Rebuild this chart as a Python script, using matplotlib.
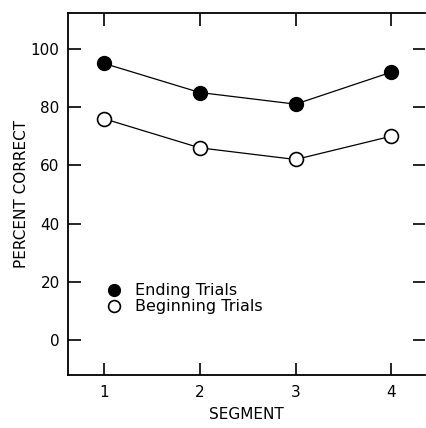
import matplotlib
matplotlib.use('Agg')
import matplotlib.pyplot as plt

# 数据
segments = [1, 2, 3, 4]
ending = [95, 85, 81, 92]
beginning = [76, 66, 62, 70]
yticks = [0, 20, 40, 60, 80, 100]

plt.rcParams['font.family'] = ['DejaVu Sans']

fig = plt.figure(figsize=(4.26, 4.28), dpi=100)
ax = fig.add_axes([68 / 426, 1 - 375 / 428, (425 - 68) / 426, (375 - 13) / 428])

ax.plot(segments, ending, color='black', linewidth=0.9, marker='o', markersize=10,
        markerfacecolor='black', markeredgecolor='black', label='Ending Trials', zorder=3)
ax.plot(segments, beginning, color='black', linewidth=0.9, marker='o', markersize=10,
        markerfacecolor='white', markeredgecolor='black', markeredgewidth=1.2,
        label='Beginning Trials', zorder=3)

ax.set_xlim(0.625, 4.35)
ax.set_ylim(-12, 112.3)
ax.set_xticks(segments)
ax.set_yticks(yticks)
ax.tick_params(axis='both', direction='in', length=9, width=1.2, labelsize=11, pad=6)
ax.tick_params(axis='x', top=True, pad=7)
ax.tick_params(axis='y', right=True)
for s in ['left', 'bottom', 'top']:
    ax.spines[s].set_linewidth(1.3)
ax.spines['right'].set_visible(False)

ax.set_xlabel('SEGMENT', fontsize=11, labelpad=5)
ax.set_ylabel('PERCENT CORRECT', fontsize=11, labelpad=1)

ax.legend(loc='upper left', bbox_to_anchor=(0.106, 0.275), frameon=False, fontsize=11.5,
          handlelength=0, handletextpad=1.3, labelspacing=0.05, borderpad=0,
          markerscale=0.85)

fig.savefig('out.png', dpi=100)
